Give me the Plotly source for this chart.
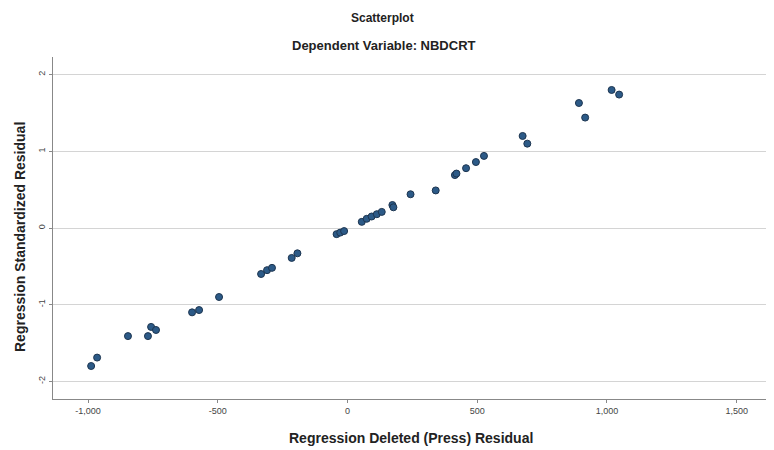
import plotly.graph_objects as go

# Data
press_residual = [-988, -965, -846, -769, -757, -738, -599, -572, -495,
                  -333, -310, -291, -215, -193, -42, -28, -13,
                  55, 74, 93, 113, 132, 173, 177, 243, 340, 414, 420,
                  457, 495, 526, 675, 693, 892, 916, 1018, 1047]
std_residual = [-1.80, -1.69, -1.41, -1.41, -1.29, -1.33, -1.10, -1.07, -0.90,
                -0.60, -0.55, -0.52, -0.39, -0.33, -0.08, -0.06, -0.04,
                0.08, 0.12, 0.15, 0.18, 0.21, 0.30, 0.27, 0.44, 0.49, 0.69, 0.71,
                0.78, 0.86, 0.94, 1.20, 1.10, 1.63, 1.44, 1.80, 1.74]

x_tickvals = [-1000, -500, 0, 500, 1000, 1500]
x_ticktext = ["-1,000", "-500", "0", "500", "1,000", "1,500"]
y_tickvals = [-2, -1, 0, 1, 2]
y_ticktext = ["-2", "-1", "0", "1", "2"]

FONT = "Liberation Sans, Arial, sans-serif"
W, H = 774, 450
OFF = 8  # page body margin offset
ML, MR, MT, MB = 53 - OFF, 16, 57 - OFF, 59
w_plot = W - ML - MR
h_plot = H - MT - MB


def px_to_paper(px, py):
    # px, py in screen (reference) pixels
    return (px - OFF - ML) / w_plot, (H - MB - (py - OFF)) / h_plot


fig = go.Figure(go.Scatter(
    x=press_residual, y=std_residual, mode="markers",
    marker=dict(size=7, color="#2c5a87", line=dict(color="#1d3550", width=1)),
    showlegend=False,
))

annots = [
    ("<b>Scatterplot</b>", 382, 18, 12, 0),
    ("<b>Dependent Variable: NBDCRT</b>", 384, 46, 13, 0),
    ("<b>Regression Deleted (Press) Residual</b>", 411, 438, 14, 0),
    ("<b>Regression Standardized Residual</b>", 20, 237, 14, -90),
]
ann_list = []
for text, px, py, size, ang in annots:
    ax, ay = px_to_paper(px, py)
    ann_list.append(dict(text=text, x=ax, y=ay, xref="paper", yref="paper",
                         xanchor="center", yanchor="middle", showarrow=False,
                         textangle=ang, font=dict(size=size, color="#222")))

fig.update_layout(
    width=W, height=H,
    margin=dict(l=ML, r=MR, t=MT, b=MB),
    paper_bgcolor="white", plot_bgcolor="white",
    font=dict(family=FONT, color="#222"),
    annotations=ann_list,
)

fig.update_xaxes(
    range=[-1135, 1613], tickvals=x_tickvals, ticktext=x_ticktext, automargin=False,
    showgrid=False, zeroline=False, showline=True, linecolor="#888", linewidth=1,
    ticks="outside", ticklen=3, tickcolor="#888",
    tickfont=dict(size=9, color="#444"),
)
fig.update_yaxes(
    range=[-2.23, 2.23], tickvals=y_tickvals, ticktext=y_ticktext, tickangle=-90,
    automargin=False,
    showgrid=True, gridcolor="#d4d4d4", gridwidth=1,
    zeroline=False, showline=True, linecolor="#888", linewidth=1,
    ticks="outside", ticklen=3, tickcolor="#888",
    tickfont=dict(size=9, color="#444"),
)

fig.write_html("out.html")
